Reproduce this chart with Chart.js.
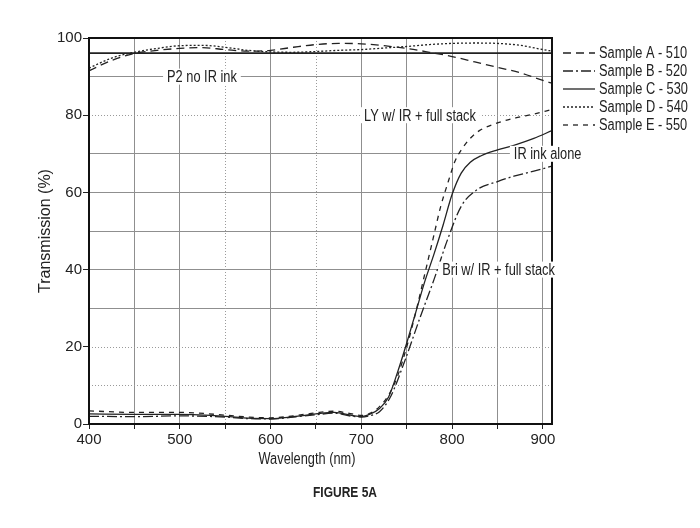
<!DOCTYPE html>
<html><head><meta charset="utf-8">
<script src="https://cdn.jsdelivr.net/npm/chart.js@4"></script>
<style>html,body{margin:0;padding:0;background:#fff;}#wrap{width:700px;height:528px;}</style>
</head><body><div id="wrap"><canvas id="c" width="700" height="528"></canvas></div>
<script>
const FONT = "'Liberation Sans',Arial,sans-serif";
const NARROW = 0.8;
const seriesNames = ["Sample A - 510","Sample B - 520","Sample C - 530","Sample D - 540","Sample E - 550"];
const xTicks = [400,500,600,700,800,900];
const yTicks = [0,20,40,60,80,100];
const dottedY = [10,20,80];
const dottedX = [550,650];

const wlA = [400,425,450,475,500,525,550,575,600,625,650,675,700,725,750,775,800,825,850,875,900,910];
const valA = [91.5,94.2,96.0,96.8,97.3,97.5,97.0,96.6,96.8,97.6,98.3,98.6,98.5,98.0,97.3,96.3,95.2,93.8,92.4,91.0,89.0,88.3];
const wlD = [400,425,450,475,500,525,550,575,600,625,650,675,700,725,750,775,800,825,850,875,900,910];
const valD = [92.2,94.8,96.3,97.3,98.0,98.1,97.6,96.8,96.4,96.3,96.5,96.8,97.0,97.4,97.8,98.3,98.6,98.7,98.6,98.1,97.0,96.6];
const wlRef = [400,910];
const valRef = [96.1,96.1];
const wlB = [400,450,500,550,575,600,625,650,670,690,700,710,720,732,747,765,780,795,810,828,850,868,890,910];
const valB = [2.0,1.9,2.1,1.8,1.4,1.3,1.8,2.4,2.8,2.0,1.8,2.2,3.2,7.0,15.8,27.8,37.4,47.8,56.4,60.8,62.8,64.2,65.5,66.8];
const wlC = [400,450,500,550,575,600,625,650,670,690,700,710,720,730,740,750,760,770,780,790,800,810,820,832,850,868,890,910];
const valC = [2.6,2.5,2.5,2.0,1.5,1.4,1.9,2.6,3.0,2.2,1.9,2.6,4.0,7.0,13.5,21.0,29.0,37.0,44.0,51.5,59.5,65.0,67.8,69.5,71.0,72.2,74.0,76.0];
const wlE = [400,450,500,550,575,600,625,650,670,690,700,710,720,730,740,750,760,770,780,787,796,803,810,820,830,850,870,890,910];
const valE = [3.4,3.0,3.0,2.3,1.8,1.6,2.1,2.9,3.3,2.6,2.2,2.8,4.5,7.5,12.5,20.0,29.0,39.0,49.0,56.0,63.0,68.0,71.0,74.0,76.0,78.0,79.3,80.3,81.5];

const annotations = [
  {text:"P2 no IR ink", x:486, y:90},
  {text:"LY w/ IR + full stack", x:703, y:80},
  {text:"IR ink alone", x:868, y:70},
  {text:"Bri w/ IR + full stack", x:789, y:40}
];

const toPts = (xs, ys) => xs.map((x,i)=>({x:x, y:ys[i]}));
const dashes = [[8,5],[10,3,2,3],[],[2,2],[5,5]];
const lineColor = '#222';

const datasets = [
  {label:seriesNames[0], data:toPts(wlA,valA), borderDash:dashes[0]},
  {label:seriesNames[1], data:toPts(wlB,valB), borderDash:dashes[1]},
  {label:seriesNames[2], data:toPts(wlC,valC), borderDash:dashes[2]},
  {label:seriesNames[3], data:toPts(wlD,valD), borderDash:dashes[3]},
  {label:seriesNames[4], data:toPts(wlE,valE), borderDash:dashes[4]},
  {label:"P2 reference", data:toPts(wlRef,valRef), borderDash:[], borderWidth:1.8, tension:0}
].map(d => Object.assign({borderColor:lineColor, borderWidth:1.3, pointRadius:0, fill:false, tension:0.4, cubicInterpolationMode:'monotone'}, d));

function narrowText(ctx, text, x, y, align, font, rot, sc){
  const k = sc || NARROW;
  ctx.save();
  ctx.font = font;
  ctx.translate(x, y);
  if (rot) ctx.rotate(rot);
  ctx.scale(k, 1);
  const w = ctx.measureText(text).width;
  const ox = align === 'center' ? -w/2 : (align === 'right' ? -w : 0);
  ctx.textAlign = 'left';
  ctx.textBaseline = 'middle';
  ctx.fillText(text, ox, 0);
  ctx.restore();
  return w * k;
}

const decor = {
  id:'decor',
  beforeDatasetsDraw(chart){
    const ctx = chart.ctx, a = chart.chartArea, sx = chart.scales.x, sy = chart.scales.y;
    ctx.save();
    ctx.strokeStyle = '#9a9a9a'; ctx.lineWidth = 1; ctx.setLineDash([1,2]);
    dottedY.forEach(v => { const p = Math.round(sy.getPixelForValue(v))+0.5; ctx.beginPath(); ctx.moveTo(a.left,p); ctx.lineTo(a.right,p); ctx.stroke(); });
    dottedX.forEach(v => { const p = Math.round(sx.getPixelForValue(v))+0.5; ctx.beginPath(); ctx.moveTo(p,a.top); ctx.lineTo(p,a.bottom); ctx.stroke(); });
    ctx.restore();
  },
  afterDraw(chart){
    const ctx = chart.ctx, a = chart.chartArea, sx = chart.scales.x, sy = chart.scales.y;
    ctx.save();
    ctx.strokeStyle = '#111'; ctx.lineWidth = 2;
    ctx.strokeRect(a.left, a.top, a.right-a.left, a.bottom-a.top);
    const f16 = "16px " + FONT;
    ctx.font = f16;
    // annotations
    annotations.forEach(an => {
      const px = sx.getPixelForValue(an.x), py = sy.getPixelForValue(an.y);
      const w = ctx.measureText(an.text).width * NARROW;
      ctx.fillStyle = '#fff';
      ctx.fillRect(px-4, py-8, w+8, 16);
      ctx.fillStyle = '#222';
      narrowText(ctx, an.text, px, py+1, 'left', f16);
    });
    // legend
    const lx0 = a.right + 11, lx1 = a.right + 43, tx = a.right + 47;
    seriesNames.forEach((name,i) => {
      const y = 53 + i*18;
      ctx.strokeStyle = lineColor; ctx.lineWidth = 1.3;
      ctx.setLineDash(dashes[i]);
      ctx.beginPath(); ctx.moveTo(lx0, y); ctx.lineTo(lx1, y); ctx.stroke();
      ctx.setLineDash([]);
      ctx.fillStyle = '#222';
      narrowText(ctx, name, tx, y+1, 'left', f16);
    });
    // axis titles
    narrowText(ctx, "Wavelength (nm)", 307, 460, 'center', f16);
    narrowText(ctx, "Transmission (%)", 46, 231, 'center', "16px " + FONT, -Math.PI/2, 1.0);
    // caption
    narrowText(ctx, "FIGURE 5A", 345, 493, 'center', "bold 15px " + FONT);
    ctx.restore();
  }
};

new Chart(document.getElementById('c'), {
  type:'line',
  data:{datasets},
  options:{
    responsive:false, animation:false,
    layout:{padding:{left:31, right:148, top:38, bottom:55}},
    plugins:{legend:{display:false}, tooltip:{enabled:false}},
    scales:{
      x:{type:'linear', min:400, max:910,
        afterFit(s){ s.height = 49; },
        ticks:{stepSize:50, includeBounds:false, autoSkip:false, maxRotation:0, padding:2,
          color:'#222', font:{family:FONT, size:15},
          callback:(v)=> xTicks.includes(v) ? String(v) : ''},
        grid:{color:(c)=> (c.tick && dottedX.includes(c.tick.value)) ? 'rgba(0,0,0,0)' : '#8f8f8f', lineWidth:1, tickLength:5,
          tickColor:'#222'},
        border:{display:false},
        title:{display:false}
      },
      y:{type:'linear', min:0, max:100,
        afterFit(s){ s.width = 58; },
        ticks:{stepSize:10, autoSkip:false, padding:1, color:'#222', font:{family:FONT, size:15},
          callback:(v)=> yTicks.includes(v) ? String(v) : ''},
        grid:{color:(c)=> (c.tick && dottedY.includes(c.tick.value)) ? 'rgba(0,0,0,0)' : '#8f8f8f', lineWidth:1, tickLength:6,
          tickColor:(c)=> (c.tick && c.tick.value%20===0) ? '#222' : 'rgba(0,0,0,0)'},
        border:{display:false},
        title:{display:false}
      }
    }
  },
  plugins:[decor]
});
</script></body></html>
